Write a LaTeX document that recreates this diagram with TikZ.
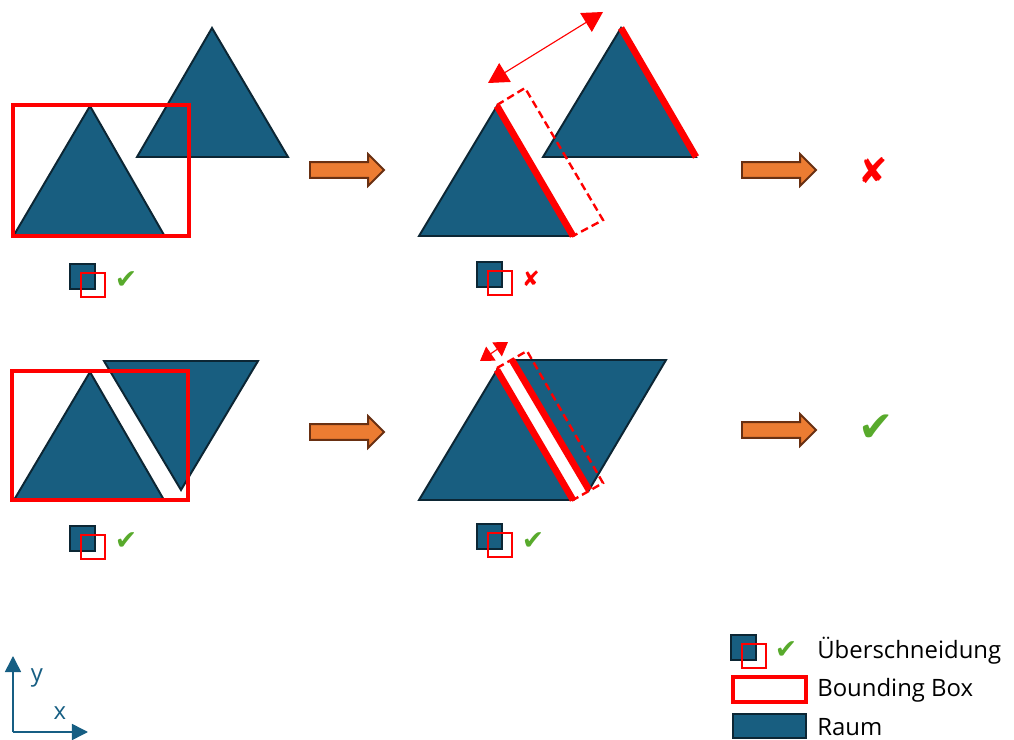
\documentclass[tikz,border=0pt]{standalone}
\usepackage{fontspec}
\setmainfont{Open Sans}
\newfontfamily\symfont{DejaVu Sans}
\usetikzlibrary{arrows.meta, shapes.arrows}
\definecolor{raumblue}{RGB}{24,94,128}
\definecolor{raumedge}{RGB}{12,38,52}
\definecolor{bbred}{RGB}{255,0,0}
\definecolor{okgreen}{RGB}{88,170,44}
\definecolor{steporange}{RGB}{236,124,50}
\definecolor{stepbrown}{RGB}{105,48,18}
\definecolor{axisblue}{RGB}{22,94,131}
\tikzset{
  raum/.style={fill=raumblue, draw=raumedge, line width=1.4pt, line join=miter},
  bbox/.style={draw=bbred, line width=2.2pt},
  bboxdash/.style={draw=bbred, line width=1.7pt, dash pattern=on 5.5pt off 3pt},
  hitedge/.style={draw=bbred, line width=4.8pt},
  distarrow/.style={draw=bbred, line width=0.8pt,
    {Triangle[length=0.5cm, width=0.55cm]}-{Triangle[length=0.5cm, width=0.55cm]}},
  shortarrow/.style={draw=bbred, line width=0.8pt,
    {Triangle[length=0.33cm, width=0.42cm]}-{Triangle[length=0.33cm, width=0.42cm]}},
  steparrow/.style={single arrow, draw=stepbrown, fill=steporange, line width=1.4pt,
    minimum height=1.85cm, inner xsep=0pt, inner ysep=0.17cm,
    single arrow head extend=0.2cm, anchor=tail},
  iconraum/.style={fill=raumblue, draw=raumedge, line width=1.2pt},
  iconbox/.style={draw=bbred, line width=1.4pt},
  okmark/.style={font=\symfont\fontsize{19}{19}\selectfont, text=okgreen, inner sep=0pt},
  nomark/.style={font=\symfont\fontsize{15}{15}\selectfont, text=bbred, inner sep=0pt},
  legtext/.style={font=\fontsize{17}{20}\selectfont, anchor=west, inner sep=0pt},
  axisline/.style={draw=axisblue, line width=1.1pt, -{Triangle[length=0.4cm, width=0.4cm]}}
}

\begin{document}
\begin{tikzpicture}[x=0.025cm, y=-0.025cm]
  \useasboundingbox (0,0) rectangle (1014,740);

  % Row 1, left: overlapping boxes
  \draw[raum] (14,235) -- (90,106) -- (164,235) -- cycle;
  \draw[raum] (137,157) -- (212,28) -- (288,157) -- cycle;
  \draw[bbox] (13,105) rectangle (189,236);

  % Row 1, middle: edge test
  \draw[raum] (419,236) -- (497,106) -- (573,236) -- cycle;
  \draw[raum] (543,157) -- (621,28) -- (696,157) -- cycle;
  \draw[hitedge] (497,106) -- (573,236);
  \draw[hitedge] (621,28) -- (696,157);
  \draw[bboxdash] (497,105) -- (525,88) -- (603,220) -- (573,236) -- cycle;
  \coordinate (gapA) at (488,83);
  \coordinate (gapB) at (603,12);
  \draw[distarrow] (gapA) -- (gapB);

  % Row 2, left
  \draw[raum] (14,500) -- (90,372) -- (164,500) -- cycle;
  \draw[raum] (104,361) -- (258,361) -- (181,490) -- cycle;
  \draw[bbox] (12,371) rectangle (188,500);

  % Row 2, middle
  \draw[raum] (419,500) -- (497,370) -- (573,500) -- cycle;
  \draw[raum] (512,360) -- (666,360) -- (589,490) -- cycle;
  \draw[hitedge] (497,370) -- (573,500);
  \draw[hitedge] (512,360) -- (589,490);
  \draw[bboxdash] (497,368) -- (527,351) -- (603,483) -- (573,500) -- cycle;
  \coordinate (gapC) at (480,361);
  \coordinate (gapD) at (508,342);
  \draw[shortarrow] (gapC) -- (gapD);

  % Steps
  \node[steparrow] (step1) at (309,170) {};
  \node[steparrow] (step2) at (741,170) {};
  \node[steparrow] (step3) at (309,432) {};
  \node[steparrow] (step4) at (741,430) {};

  % Small overlap icons
  \foreach \ix/\iy in {70/264, 477/262, 70/526, 477/524, 731/635} {
    \draw[iconraum] (\ix,\iy) rectangle ++(25,25);
    \draw[iconbox] (\ix+11,\iy+9) rectangle ++(24,24);
  }

  % Results
  \node[okmark] (ok1) at (126,280) {✔};
  \node[nomark] (no1) at (531,279) {✘};
  \node[okmark] (ok2) at (126,541) {✔};
  \node[okmark] (ok3) at (533,541) {✔};
  \node[nomark, font=\symfont\fontsize{25}{25}\selectfont] (res1) at (873,171) {✘};
  \node[okmark, font=\symfont\fontsize{30}{30}\selectfont] (res2) at (876,428) {✔};

  % Legend
  \node[okmark] (legok) at (786,650) {✔};
  \node[legtext] (legcut) at (817,651) {Überschneidung};
  \draw[bbox] (733,677) rectangle (806,702);
  \node[legtext] (legbox) at (817,690) {Bounding Box};
  \draw[raum] (733,714) rectangle (806,738);
  \node[legtext] (legraum) at (817,727) {Raum};

  % Axes
  \coordinate (origin) at (13,732);
  \coordinate (ytip) at (13,656);
  \coordinate (xtip) at (88,732);
  \draw[axisline] (origin) -- (ytip);
  \draw[axisline] (origin) -- (xtip);
  \node[text=axisblue, font=\fontsize{17}{20}\selectfont] (ylab) at (37,678) {y};
  \node[text=axisblue, font=\fontsize{17}{20}\selectfont] (xlab) at (60,713) {x};
\end{tikzpicture}
\end{document}
